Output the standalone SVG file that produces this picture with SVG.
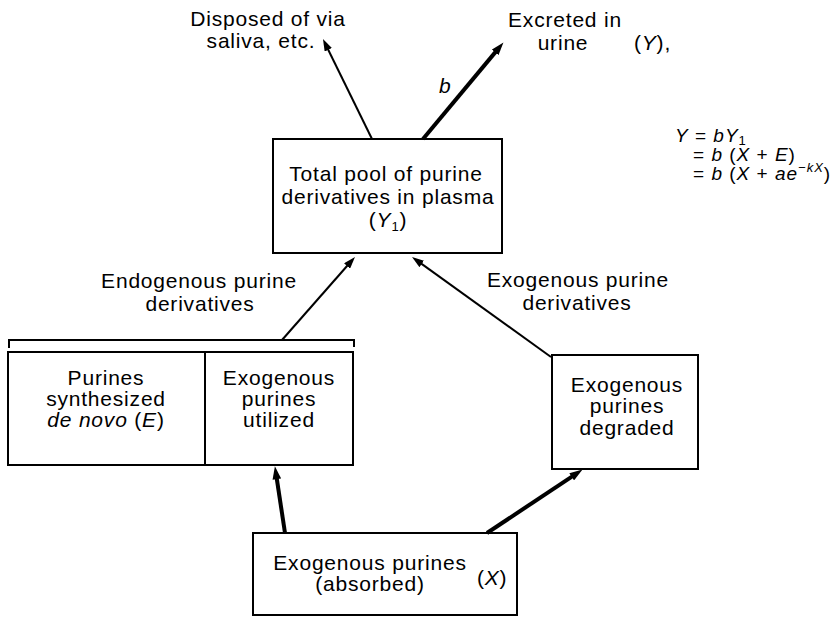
<svg xmlns="http://www.w3.org/2000/svg" width="838" height="617" viewBox="0 0 838 617">
<style>
text{font-family:"Liberation Sans",Arial,sans-serif;font-size:21px;fill:#000;letter-spacing:0.8px}
.m{text-anchor:middle}
.it{font-style:italic}
.box{fill:none;stroke:#000;stroke-width:2}
.thin{fill:none;stroke:#000;stroke-width:2}
.thick{fill:none;stroke:#000;stroke-width:4}
.f{font-size:19px;letter-spacing:1px}
.s{font-size:13px}
</style>
<defs>
<marker id="ah" viewBox="0 0 12 8" refX="4" refY="4" markerWidth="12" markerHeight="8" markerUnits="userSpaceOnUse" orient="auto">
<path d="M0,0 L12,4 L0,8 z" fill="#000"/>
</marker>
<marker id="ahT" viewBox="0 0 12 8" refX="4" refY="4" markerWidth="13" markerHeight="9" markerUnits="userSpaceOnUse" orient="auto">
<path d="M0,0 L12,4 L0,8 z" fill="#000"/>
</marker>
</defs>
<rect width="838" height="617" fill="#fff"/>

<g id="connectors">
<line class="thin" x1="372" y1="139" x2="326.5" y2="46.2" marker-end="url(#ah)"/>
<line class="thick" x1="423" y1="139" x2="497.9" y2="49.1" marker-end="url(#ahT)"/>
<line class="thin" x1="282" y1="340" x2="349.7" y2="263" marker-end="url(#ah)"/>
<line class="thin" x1="551" y1="357" x2="418.5" y2="261.6" marker-end="url(#ah)"/>
<line class="thick" x1="285" y1="533" x2="276.2" y2="474.9" marker-end="url(#ahT)"/>
<line class="thick" x1="487" y1="533" x2="575.3" y2="474.4" marker-end="url(#ahT)"/>
<path class="thin" d="M9,348 V340 H354 V347"/>
<text class="it" x="439" y="93">b</text>
<text class="m" x="199" y="288">Endogenous purine</text>
<text class="m" x="200" y="311">derivatives</text>
<text class="m" x="578" y="287">Exogenous purine</text>
<text class="m" x="577" y="310">derivatives</text>
</g>

<g id="disposed">
<text class="m" x="268" y="26">Disposed of via</text>
<text class="m" x="261" y="48">saliva, etc.</text>
</g>

<g id="excreted">
<text class="m" x="565" y="27">Excreted in</text>
<text class="m" x="563" y="50">urine</text>
<text x="634" y="50">(<tspan class="it">Y</tspan>),</text>
</g>

<g id="formula">
<text class="f" x="675" y="142"><tspan class="it">Y</tspan> = <tspan class="it">bY</tspan><tspan class="s" dy="3">1</tspan></text>
<text class="f" x="693" y="161">= <tspan class="it">b</tspan> (<tspan class="it">X</tspan> + <tspan class="it">E</tspan>)</text>
<text class="f" x="693" y="180">= <tspan class="it">b</tspan> (<tspan class="it">X</tspan> + <tspan class="it">ae</tspan><tspan class="s it" dy="-8">−kX</tspan><tspan dy="8">)</tspan></text>
</g>

<g id="plasma">
<rect class="box" x="273" y="139" width="229" height="114"/>
<text class="m" x="386" y="181">Total pool of purine</text>
<text class="m" x="388" y="204">derivatives in plasma</text>
<text class="m" x="388" y="227">(<tspan class="it">Y</tspan><tspan class="s" dy="4">1</tspan><tspan dy="-4">)</tspan></text>
</g>

<g id="left-box">
<rect class="box" x="8" y="352" width="345" height="113"/>
<line class="box" x1="205" y1="352" x2="205" y2="465"/>
</g>

<g id="synthesized">
<text class="m" x="106" y="385">Purines</text>
<text class="m" x="106" y="406">synthesized</text>
<text class="m" x="106" y="427"><tspan class="it">de novo</tspan> (<tspan class="it">E</tspan>)</text>
</g>

<g id="utilized">
<text class="m" x="279" y="385">Exogenous</text>
<text class="m" x="279" y="406">purines</text>
<text class="m" x="279" y="427">utilized</text>
</g>

<g id="degraded">
<rect class="box" x="552" y="355" width="146" height="114"/>
<text class="m" x="627" y="392">Exogenous</text>
<text class="m" x="627" y="413">purines</text>
<text class="m" x="627" y="435">degraded</text>
</g>

<g id="absorbed">
<rect class="box" x="253" y="533" width="264" height="82"/>
<text class="m" x="370" y="570">Exogenous purines</text>
<text class="m" x="370" y="591">(absorbed)</text>
<text x="477" y="585">(<tspan class="it">X</tspan>)</text>
</g>
</svg>
